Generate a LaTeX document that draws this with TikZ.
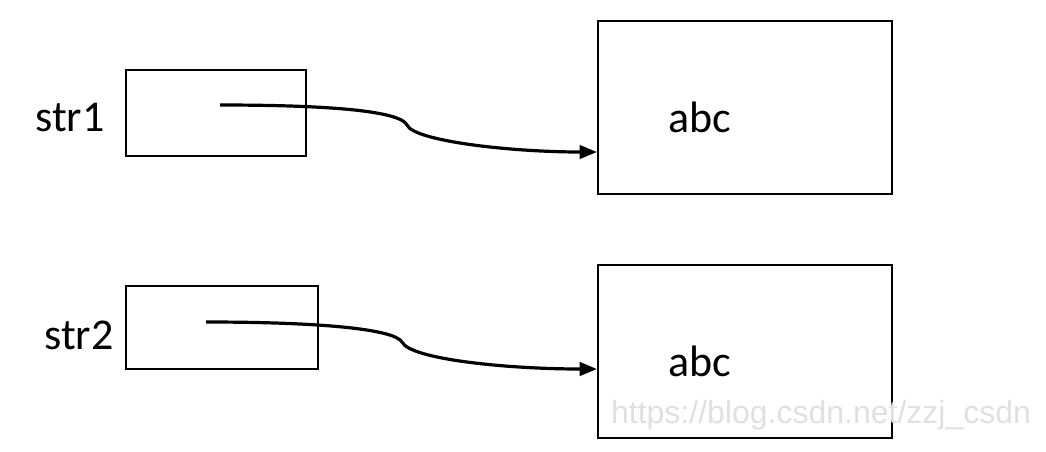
\documentclass[tikz,border=0pt]{standalone}
\usepackage{fontspec}
\setmainfont{Carlito}
\newfontfamily\wmfont{Liberation Sans}
\usetikzlibrary{arrows.meta}
\begin{document}
\begin{tikzpicture}[x=0.75pt,y=-0.75pt,
  box/.style={draw, line width=1.5pt, inner sep=0pt, outer sep=0pt},
  lbl/.style={font=\fontsize{33}{38}\selectfont, inner sep=0pt},
  ptr/.style={line width=2.4pt, -{Stealth[length=13pt,width=10pt,inset=0pt]}}]
\useasboundingbox (0,0) rectangle (1046,451);
% small boxes
\node[box, minimum width=135pt, minimum height=64.5pt] (s1) at (216,113) {};
\node[box, minimum width=144pt, minimum height=62.25pt] (s2) at (222,327.5) {};
% big boxes
\node[box, minimum width=220.5pt, minimum height=129.75pt] (b1) at (745,107.5) {};
\node[box, minimum width=220.5pt, minimum height=129.75pt] (b2) at (745,351.5) {};
% labels
\node[lbl] (l1) at (70,117) {str1};
\node[lbl] (l2) at (79,335) {str2};
\node[lbl] (t1) at (700,117) {abc};
\node[lbl] (t2) at (700,361) {abc};
% pointer coordinates
\coordinate (p1) at (220,105);
\coordinate (e1) at (597,152);
\coordinate (p2) at (206,322);
\coordinate (e2) at (597,369);
\draw[ptr] (p1) .. controls (330,105) and (400,111) .. (407,125)
  .. controls (414,141) and (510,152) .. (e1);
\draw[ptr] (p2) .. controls (320,322) and (394,329) .. (402,342)
  .. controls (410,359) and (505,369) .. (e2);
% watermark
\node[font=\wmfont\fontsize{24}{28}\selectfont, text=black!12, inner sep=0pt] (wm) at (821,415) {https://blog.csdn.net/zzj\_csdn};
\end{tikzpicture}
\end{document}
